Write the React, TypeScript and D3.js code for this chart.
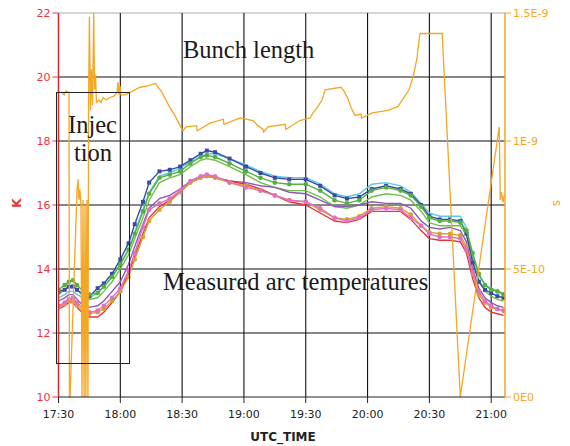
import * as d3 from "d3";

// minutes after 17:30 for the arc temperature samples
const tempMinutes = [0, 3, 5, 7, 9, 12, 15, 19, 22, 26, 30, 34, 37, 41, 44, 49, 54, 59, 64, 69, 72, 76, 83, 91, 98, 105, 112, 120, 127, 134, 140, 146, 152, 159, 166, 171, 176, 180, 185, 190, 195, 198, 201, 204, 207, 210, 213, 216];

const blueK = [13.3, 13.35, 13.45, 13.45, 13.35, 13.2, 13.15, 13.4, 13.55, 13.85, 14.3, 14.8, 15.4, 16.1, 16.7, 17.05, 17.1, 17.2, 17.4, 17.6, 17.7, 17.65, 17.45, 17.2, 17.0, 16.85, 16.8, 16.8, 16.6, 16.3, 16.2, 16.25, 16.5, 16.6, 16.5, 16.35, 16.0, 15.65, 15.55, 15.55, 15.5, 15.1, 14.2, 13.6, 13.35, 13.25, 13.15, 13.1];
const cyanK = [13.1, 13.2, 13.3, 13.3, 13.2, 13.1, 13.1, 13.25, 13.45, 13.75, 14.15, 14.6, 15.15, 15.85, 16.4, 16.9, 17.0, 17.15, 17.35, 17.5, 17.6, 17.6, 17.45, 17.25, 17.05, 16.9, 16.85, 16.85, 16.65, 16.35, 16.25, 16.35, 16.65, 16.7, 16.6, 16.4, 16.05, 15.75, 15.65, 15.65, 15.65, 15.3, 14.4, 13.8, 13.5, 13.4, 13.3, 13.25];
const greenK = [13.35, 13.5, 13.6, 13.65, 13.5, 13.3, 13.2, 13.25, 13.45, 13.75, 14.15, 14.6, 15.1, 15.8, 16.35, 16.85, 16.95, 17.05, 17.3, 17.5, 17.55, 17.5, 17.3, 17.05, 16.85, 16.7, 16.65, 16.65, 16.45, 16.15, 16.05, 16.15, 16.45, 16.55, 16.45, 16.3, 15.95, 15.6, 15.5, 15.5, 15.45, 15.2, 14.5, 13.85, 13.5, 13.35, 13.3, 13.2];
const lightGreenK = [13.2, 13.35, 13.45, 13.5, 13.35, 13.15, 13.05, 13.1, 13.3, 13.6, 14.0, 14.45, 14.95, 15.6, 16.15, 16.7, 16.85, 16.95, 17.2, 17.4, 17.45, 17.4, 17.2, 16.95, 16.7, 16.55, 16.45, 16.45, 16.25, 15.95, 15.9, 16.0, 16.25, 16.35, 16.3, 16.15, 15.8, 15.45, 15.35, 15.35, 15.35, 15.05, 14.3, 13.65, 13.3, 13.15, 13.05, 13.0];
const purpleK = [13.0, 13.1, 13.2, 13.2, 13.05, 12.85, 12.8, 12.85, 13.0, 13.3, 13.6, 14.15, 14.7, 15.4, 15.9, 16.2, 16.3, 16.5, 16.75, 16.9, 16.95, 16.85, 16.75, 16.7, 16.6, 16.55, 16.4, 16.35, 16.15, 15.95, 15.95, 16.0, 16.1, 16.05, 16.05, 15.9, 15.5, 15.3, 15.25, 15.3, 15.2, 14.85, 14.0, 13.4, 13.1, 12.95, 12.85, 12.8];
const redK = [12.75, 12.85, 12.95, 12.95, 12.8, 12.6, 12.5, 12.5, 12.65, 12.95, 13.3, 13.85, 14.4, 15.1, 15.6, 15.95, 16.15, 16.4, 16.7, 16.85, 16.9, 16.85, 16.75, 16.65, 16.5, 16.3, 16.1, 16.0, 15.75, 15.5, 15.45, 15.55, 15.8, 15.8, 15.8, 15.55, 15.2, 14.95, 14.9, 14.9, 14.85, 14.5, 13.7, 13.1, 12.8, 12.65, 12.6, 12.55];
const goldK = [12.8, 12.9, 13.0, 13.0, 12.85, 12.7, 12.6, 12.65, 12.75, 13.0, 13.3, 13.75, 14.3, 15.0, 15.5, 15.85, 16.1, 16.4, 16.7, 16.85, 16.9, 16.85, 16.7, 16.6, 16.45, 16.3, 16.15, 16.1, 15.85, 15.6, 15.55, 15.65, 15.9, 15.95, 15.9, 15.7, 15.35, 15.15, 15.1, 15.1, 15.05, 14.7, 13.85, 13.2, 12.95, 12.8, 12.75, 12.7];
const pinkK = [12.85, 12.95, 13.05, 13.1, 12.95, 12.75, 12.65, 12.7, 12.85, 13.1, 13.4, 13.95, 14.5, 15.3, 15.85, 16.05, 16.2, 16.45, 16.75, 16.9, 16.95, 16.9, 16.7, 16.55, 16.45, 16.3, 16.15, 16.1, 15.9, 15.6, 15.5, 15.6, 15.85, 15.9, 15.85, 15.6, 15.35, 15.1, 15.0, 15.0, 14.95, 14.6, 13.9, 13.3, 13.0, 12.85, 12.75, 12.7];

// bunch length, in units of 1E-9 s
const bunchMinutes = [0, 1.7, 2.7, 3.6, 5.1, 5.3, 5.6, 9.0, 9.5, 9.9, 10.4, 10.9, 11.4, 11.9, 12.4, 12.9, 13.3, 13.8, 14.3, 14.6, 15.0, 15.5, 16.0, 16.5, 17.1, 17.5, 18.0, 18.4, 19.7, 20.6, 21.6, 23.1, 25.0, 26.9, 28.4, 28.9, 29.4, 29.9, 30.3, 32.3, 34.7, 39.6, 43.4, 47.1, 50.2, 54.1, 56.5, 59.0, 60.4, 61.9, 67.0, 67.3, 73.5, 80.0, 80.3, 88.1, 94.4, 96.8, 99.3, 99.6, 101.7, 110.0, 110.3, 117.2, 122.1, 123.5, 125.5, 127.9, 129.4, 137.1, 138.6, 140.5, 142.0, 143.9, 146.8, 147.1, 152.2, 159.9, 164.8, 167.7, 170.1, 172.1, 174.0, 175.2, 175.5, 186.2, 195.0, 213.9, 214.4, 214.9, 215.8, 216.3];
const bunchNs = [1.19, 1.19, 1.18, 1.195, 1.19, 0, 0, 0.81, 0.85, 0.77, 0.81, 0.75, 0, 0.77, 0, 0.75, 0, 0.77, 0, 1.16, 1.485, 1.12, 1.28, 1.14, 1.5, 1.2, 1.26, 1.15, 1.16, 1.15, 1.17, 1.16, 1.17, 1.175, 1.19, 1.23, 1.18, 1.215, 1.18, 1.18, 1.19, 1.21, 1.215, 1.225, 1.19, 1.13, 1.1, 1.06, 1.04, 1.055, 1.06, 1.04, 1.07, 1.085, 1.065, 1.09, 1.08, 1.06, 1.045, 1.035, 1.055, 1.065, 1.045, 1.08, 1.09, 1.11, 1.13, 1.16, 1.2, 1.21, 1.195, 1.165, 1.13, 1.1, 1.105, 1.09, 1.11, 1.12, 1.135, 1.17, 1.2, 1.25, 1.325, 1.41, 1.42, 1.42, 0, 1.055, 0.77, 0.8, 0.76, 0.79];

const kTicks = [10, 12, 14, 16, 18, 20, 22];
const sTicks = [0, 0.5, 1, 1.5];
const sTickLabels = ["0E0", "5E-10", "1E-9", "1.5E-9"];

const series = [
  { name: "cyan", values: cyanK, color: "#5cc7e6", marker: "none" },
  { name: "lightGreen", values: lightGreenK, color: "#6fbf4a", marker: "none" },
  { name: "purple", values: purpleK, color: "#8f58b8", marker: "none" },
  { name: "red", values: redK, color: "#e8323c", marker: "none" },
  { name: "gold", values: goldK, color: "#d3a42c", marker: "circle" },
  { name: "pink", values: pinkK, color: "#df70c6", marker: "circle" },
  { name: "blue", values: blueK, color: "#3a4aa8", marker: "square" },
  { name: "green", values: greenK, color: "#52b03e", marker: "circle" },
];

const W = 570;
const H = 446;
const left = 58.5;
const right = 505;
const top = 13;
const bottom = 397;

const base = new Date(2010, 0, 1, 17, 30).getTime();
const toDate = (m: number) => new Date(base + m * 60000);

export default function App() {
  const x = d3.scaleTime().domain([toDate(0), toDate(216.7)]).range([left, right]);
  const yK = d3.scaleLinear().domain([10, 22]).range([bottom, top]);
  const yS = d3.scaleLinear().domain([0, 1.5]).range([bottom, top]);
  const timeTicks = x.ticks(d3.timeMinute.every(30)!);
  const fmt = d3.timeFormat("%H:%M");

  const tempLine = d3.line<number>()
    .x((_, i) => x(toDate(tempMinutes[i])))
    .y((d) => yK(d));
  const bunchLine = d3.line<number>()
    .x((_, i) => x(toDate(bunchMinutes[i])))
    .y((d) => yS(d));

  const tickFont = { fontFamily: "DejaVu Sans", fontSize: 11 };

  return (
    <svg width={W} height={H} style={{ position: "absolute", left: 0, top: 0, background: "#fff" }}>
      <defs>
        <clipPath id="plot">
          <rect x={left} y={top - 1} width={right - left} height={bottom - top + 2} />
        </clipPath>
      </defs>

      {/* grid */}
      <line x1={left} x2={right} y1={top} y2={top} stroke="#c8c8c8" strokeWidth={1.5} />
      {kTicks.slice(1, -1).map((k) => (
        <line key={k} x1={left} x2={right} y1={yK(k)} y2={yK(k)} stroke="#111" strokeWidth={1.1} />
      ))}
      {timeTicks.slice(1).map((t) => (
        <line key={+t} x1={x(t)} x2={x(t)} y1={top} y2={bottom} stroke="#111" strokeWidth={1.1} />
      ))}

      {/* temperatures */}
      <g clipPath="url(#plot)">
        {series.map((s) => (
          <g key={s.name}>
            <path d={tempLine(s.values)!} fill="none" stroke={s.color} strokeWidth={1.4} />
            {s.marker === "circle" &&
              s.values.map((v, i) => (
                <circle key={i} cx={x(toDate(tempMinutes[i]))} cy={yK(v)} r={2.3} fill={s.color} />
              ))}
            {s.marker === "square" &&
              s.values.map((v, i) => (
                <rect key={i} x={x(toDate(tempMinutes[i])) - 2} y={yK(v) - 2} width={4} height={4} fill={s.color} />
              ))}
          </g>
        ))}
        <path d={bunchLine(bunchNs)!} fill="none" stroke="#f5a623" strokeWidth={1.3} />
      </g>

      {/* axes */}
      <line x1={left} x2={right} y1={bottom} y2={bottom} stroke="#222" strokeWidth={1} />
      <line x1={left} x2={left} y1={top} y2={bottom} stroke="#d42a2a" strokeWidth={1.5} />
      <line x1={right} x2={right} y1={top} y2={bottom} stroke="#f5a623" strokeWidth={1.5} />

      {kTicks.map((k) => (
        <g key={k}>
          <line x1={left - 6} x2={left} y1={yK(k)} y2={yK(k)} stroke="#e8323c" />
          <text x={left - 8} y={yK(k)} dy="0.35em" textAnchor="end" fill="#f0323c" style={tickFont}>{k}</text>
        </g>
      ))}
      {sTicks.map((s, i) => (
        <g key={s}>
          <line x1={right} x2={right + 6} y1={yS(s)} y2={yS(s)} stroke="#f5a623" />
          <text x={right + 8} y={yS(s)} dy="0.35em" fill="#f5a623" style={tickFont}>{sTickLabels[i]}</text>
        </g>
      ))}
      {timeTicks.map((t) => (
        <g key={+t}>
          <line x1={x(t)} x2={x(t)} y1={bottom} y2={bottom + 6} stroke="#222" />
          <text x={x(t)} y={bottom + 21} textAnchor="middle" fill="#222" style={tickFont}>{fmt(t)}</text>
        </g>
      ))}

      <text transform="translate(21,203) rotate(-90)" textAnchor="middle" fill="#e8323c"
        style={{ fontFamily: "DejaVu Sans", fontSize: 12, fontWeight: "bold" }}>K</text>
      <text transform="translate(560,203) rotate(-90)" textAnchor="middle" fill="#f5a623"
        style={{ fontFamily: "DejaVu Sans", fontSize: 12 }}>s</text>
      <text x={283} y={441} textAnchor="middle" fill="#222"
        style={{ fontFamily: "DejaVu Sans", fontSize: 12, fontWeight: "bold" }}>UTC_TIME</text>

      {/* annotations */}
      <rect x={56.5} y={92.5} width={73} height={271} fill="none" stroke="#222" strokeWidth={1} />
      <g fill="#1a1a1a" style={{ fontFamily: "Liberation Serif", fontSize: 24.5 }}>
        <text x={183} y={58}>Bunch length</text>
        <text x={68} y={133}>Injec</text>
        <text x={74} y={161}>tion</text>
        <text x={163} y={290}>Measured arc temperatures</text>
      </g>
    </svg>
  );
}
